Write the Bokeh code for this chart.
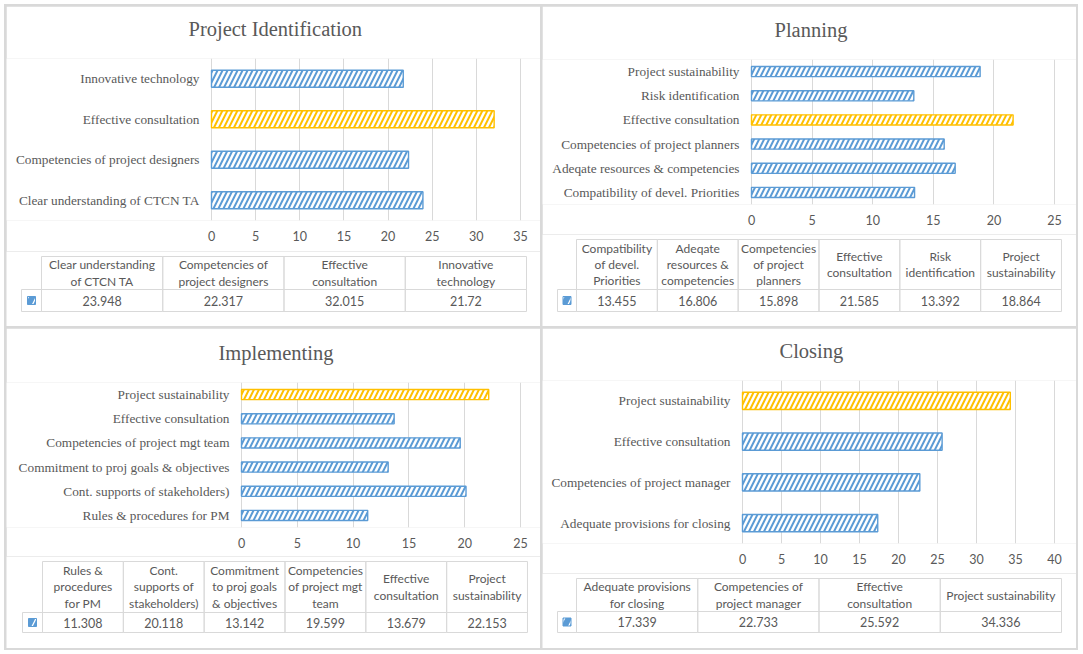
from bokeh.plotting import figure
from bokeh.layouts import column, row
from bokeh.models import Range1d, FactorRange, FixedTicker, ColumnDataSource, Title
from bokeh.core.properties import value
from bokeh.embed import file_html
from bokeh.resources import INLINE

# ---------------- data ----------------
pi_title = "Project Identification"
pi_cats = ["Clear understanding of CTCN TA", "Competencies of project designers",
           "Effective consultation", "Innovative technology"]
pi_heads = ["Clear understanding\nof CTCN TA", "Competencies of\nproject designers",
            "Effective\nconsultation", "Innovative\ntechnology"]
pi_vals = [23.948, 22.317, 32.015, 21.72]
pi_xmax = 35

pl_title = "Planning"
pl_cats = ["Compatibility of devel. Priorities", "Adeqate resources & competencies",
           "Competencies of project planners", "Effective consultation",
           "Risk identification", "Project sustainability"]
pl_heads = ["Compatibility\nof devel.\nPriorities", "Adeqate\nresources &\ncompetencies",
            "Competencies\nof project\nplanners", "Effective\nconsultation",
            "Risk\nidentification", "Project\nsustainability"]
pl_vals = [13.455, 16.806, 15.898, 21.585, 13.392, 18.864]
pl_xmax = 25

im_title = "Implementing"
im_cats = ["Rules & procedures for PM", "Cont. supports of stakeholders)",
           "Commitment to proj goals & objectives", "Competencies of project mgt team",
           "Effective consultation", "Project sustainability"]
im_heads = ["Rules &\nprocedures\nfor PM", "Cont.\nsupports of\nstakeholders)",
            "Commitment\nto proj goals\n& objectives", "Competencies\nof project mgt\nteam",
            "Effective\nconsultation", "Project\nsustainability"]
im_vals = [11.308, 20.118, 13.142, 19.599, 13.679, 22.153]
im_xmax = 25

cl_title = "Closing"
cl_cats = ["Adequate provisions for closing", "Competencies of project manager",
           "Effective consultation", "Project sustainability"]
cl_heads = ["Adequate provisions\nfor closing", "Competencies of\nproject manager",
            "Effective\nconsultation", "Project sustainability"]
cl_vals = [17.339, 22.733, 25.592, 34.336]
cl_xmax = 40

# ---------------- style ----------------
BLUE = "#5b9bd5"
ORANGE = "#ffc000"
TXT = "#595959"
GRID = "#d9d9d9"
SERIF = "Liberation Serif"
SANS = "Lato"


def chart(title, cats, vals, xmax, w, h, fl, fr, ft, fb, tleft):
    n = len(cats)
    top = max(vals)
    cols = [ORANGE if v == top else BLUE for v in vals]
    src = ColumnDataSource(dict(cat=cats, val=vals, col=cols))
    pxu = (w - fl - fr) / xmax
    p = figure(width=w, height=h, title=None, y_range=FactorRange(factors=cats),
               x_range=Range1d(-fl / pxu, xmax + fr / pxu), y_axis_location=None,
               output_backend="svg", toolbar_location=None,
               min_border_left=0, min_border_right=0, min_border_top=ft,
               min_border_bottom=fb, border_fill_color="white",
               outline_line_color=None)
    p.hbar(y="cat", right="val", left=0, height=0.42, source=src,
           fill_color="white", line_color="col", line_width=1.4,
           hatch_pattern="/", hatch_color="col", hatch_scale=10, hatch_weight=2.0)
    p.text(x=[0] * n, y=cats, text=cats, x_offset=-12, text_align="right",
           text_baseline="middle", text_color=TXT, text_font=value(SERIF),
           text_font_size="13.3px")
    # spacer between plot area and title (pushes the title up)
    p.add_layout(Title(text=" ", text_font_size="2px", standoff=10), "above")
    p.add_layout(Title(text=title, text_font=SERIF, text_font_size="20.5px",
                       text_font_style="normal", text_color=TXT, align="left",
                       offset=tleft), "above")
    p.xaxis.ticker = FixedTicker(ticks=list(range(0, xmax + 1, 5)))
    ax = p.xaxis
    ax.axis_line_color = None
    ax.major_tick_line_color = None
    ax.minor_tick_line_color = None
    ax.major_tick_out = 0
    ax.minor_tick_out = 0
    ax.major_label_text_color = TXT
    ax.major_label_text_font = SANS
    ax.major_label_text_font_size = "12.5px"
    ax.major_label_standoff = 10
    p.xgrid.grid_line_color = GRID
    p.ygrid.grid_line_color = None
    return p


def table(heads, vals, w, h, L, kw, cw, ttop, head_h, val_h):
    n = len(vals)
    x0 = -(L + kw) / cw
    x1 = (w - L - kw) / cw
    yb = h - (ttop + head_h + val_h)
    p = figure(width=w, height=h, title=None, x_range=Range1d(x0, x1),
               y_range=Range1d(0, h), output_backend="svg", toolbar_location=None,
               x_axis_type=None, y_axis_type=None,
               min_border_left=0, min_border_right=0, min_border_top=0,
               min_border_bottom=0, border_fill_color="white",
               outline_line_color=None)
    p.grid.visible = False
    idx = list(range(n))
    kf = kw / cw
    p.quad(left=idx, right=[i + 1 for i in idx], bottom=yb + val_h,
           top=yb + val_h + head_h, fill_color=None, line_color=GRID, line_width=1)
    p.quad(left=[-kf] + idx, right=[0] + [i + 1 for i in idx], bottom=yb,
           top=yb + val_h, fill_color=None, line_color=GRID, line_width=1)
    p.text(x=[i + 0.5 for i in idx], y=[yb + val_h + head_h / 2] * n, text=heads,
           text_align="center", text_baseline="middle", text_color=TXT,
           text_font=value(SANS), text_font_size="12px", text_line_height=1.08)
    p.text(x=[i + 0.5 for i in idx], y=[yb + val_h / 2] * n, text=[str(v) for v in vals],
           text_align="center", text_baseline="middle", text_color=TXT,
           text_font=value(SANS), text_font_size="12.5px")
    p.scatter(x=[-kf / 2], y=[yb + val_h / 2], marker="square", size=8,
              fill_color=BLUE, line_color=BLUE, hatch_pattern="/",
              hatch_color="white", hatch_scale=16, hatch_weight=1.3)
    return p


W = 534
c1 = chart(pi_title, pi_cats, pi_vals, pi_xmax, W, 245, 205, 20, 52, 31, 182)
t1 = table(pi_heads, pi_vals, W, 75, 15, 20, 121.25, 5, 33, 22)
c2 = chart(pl_title, pl_cats, pl_vals, pl_xmax, W, 228, 209, 22, 53, 30, 232)
t2 = table(pl_heads, pl_vals, W, 92, 15, 19, 80.83, 5, 50, 22)
c3 = chart(im_title, im_cats, im_vals, im_xmax, W, 228, 235, 20, 54, 29, 212)
t3 = table(im_heads, im_vals, W, 92, 16, 20, 80.83, 5, 51, 20)
c4 = chart(cl_title, cl_cats, cl_vals, cl_xmax, W, 245, 200, 22, 52, 30, 237)
t4 = table(cl_heads, cl_vals, W, 75, 15, 19, 121.25, 5, 33, 21)

p1 = column(c1, t1, spacing=0)
p2 = column(c2, t2, spacing=0)
p3 = column(c3, t3, spacing=0)
p4 = column(c4, t4, spacing=0)
top_row = row(p1, p2, spacing=2)
bot_row = row(p3, p4, spacing=2)
layout = column(top_row, bot_row, spacing=2,
                styles={"background-color": "#d9d9d9", "padding": "2px",
                        "margin-left": "4px", "margin-top": "4px"})

open("out.html", "w").write(file_html(layout, INLINE))
